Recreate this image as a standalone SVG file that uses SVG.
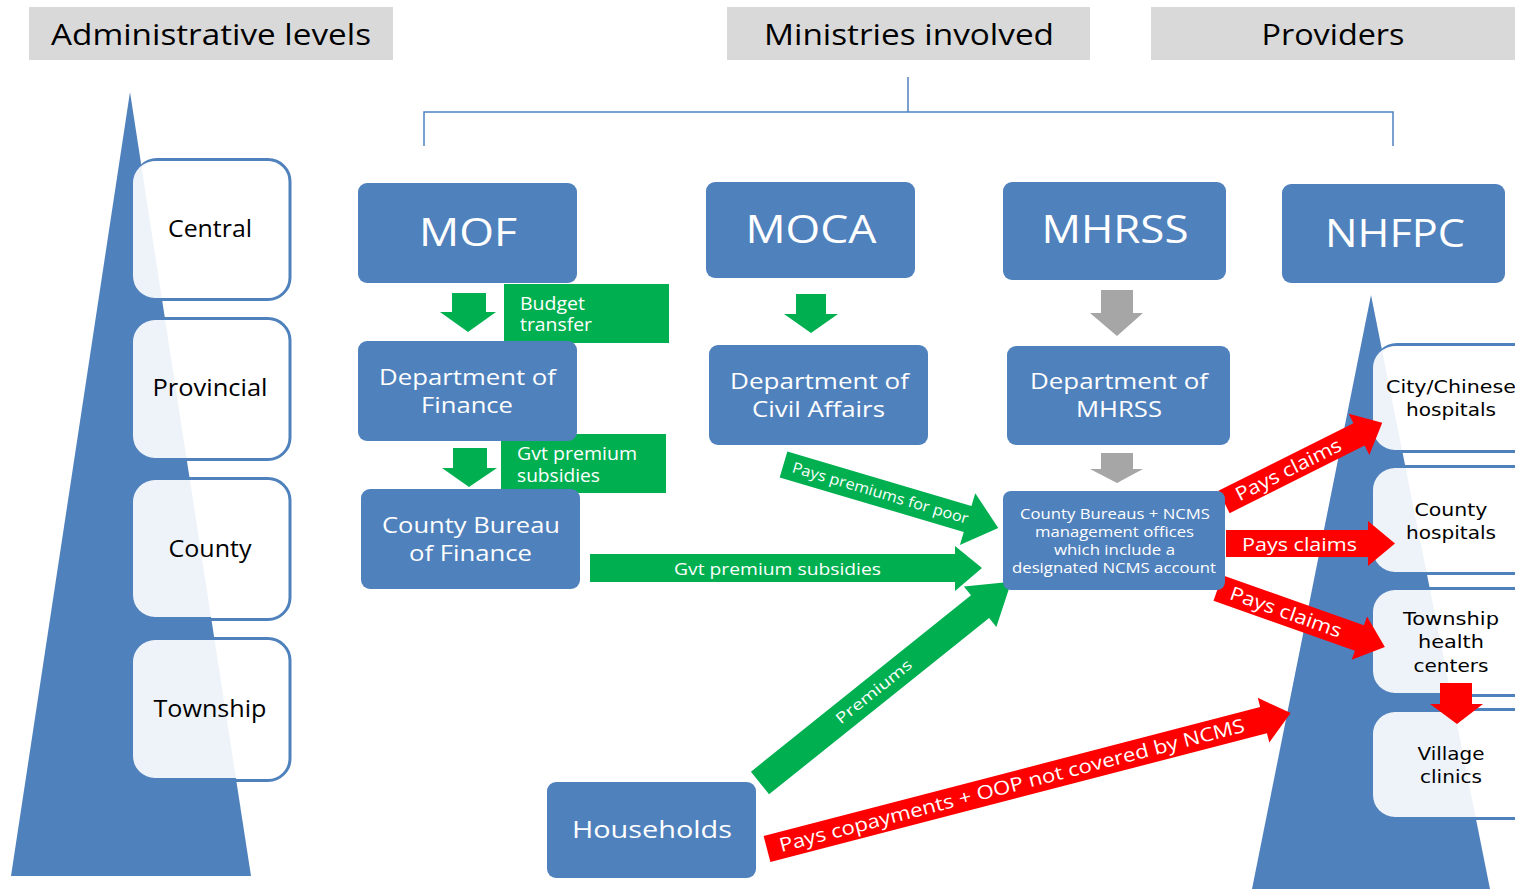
<svg xmlns="http://www.w3.org/2000/svg" width="1515" height="889" viewBox="0 0 1515 889">
<style>
text{font-family:"Open Sans","Liberation Sans",sans-serif;text-anchor:middle}
.hdr{fill:#D9D9D9}
.hdrt{font-size:30px;fill:#000}
.blue{fill:#4F81BD}
.node{fill:#4F81BD}
.big{font-size:39px;fill:#fff}
.dep{font-size:22px;fill:#fff}
.small{font-size:15px;fill:#fff}
.lvlS{fill:none;stroke:#4F81BD;stroke-width:3}
.lvlF{fill:#fff;fill-opacity:0.9}
.lvlt{font-size:23px;fill:#000}
.prvt{font-family:"DejaVu Sans","Liberation Sans",sans-serif;font-size:18px;fill:#000}
.green{fill:#00B050}
.red{fill:#FF0000}
.grey{fill:#A6A6A6}
.lbl{fill:#fff;text-anchor:start;font-size:18px}
.gl{font-size:15px;fill:#fff}
.rl{font-size:19px;fill:#fff}
.br{fill:none;stroke:#4F81BD;stroke-width:1.5}
</style>

<!-- headers -->
<g id="hdr-admin"><rect class="hdr" x="29" y="7" width="364" height="53"/><text class="hdrt" x="211" y="45" textLength="320" lengthAdjust="spacingAndGlyphs">Administrative levels</text></g>
<g id="hdr-min"><rect class="hdr" x="727" y="7" width="363" height="53"/><text class="hdrt" x="909" y="45" textLength="290" lengthAdjust="spacingAndGlyphs">Ministries involved</text></g>
<g id="hdr-prov"><rect class="hdr" x="1151" y="7" width="364" height="53"/><text class="hdrt" x="1333" y="45" textLength="143" lengthAdjust="spacingAndGlyphs">Providers</text></g>

<!-- triangles -->
<polygon class="blue" points="130,92 251,876 11,876"/>
<polygon class="blue" points="1371,295 1490,889 1252,889"/>

<!-- level boxes -->
<g id="lvl-central"><rect class="lvlS" x="135" y="159.5" width="155" height="140" rx="22"/><rect class="lvlF" x="133" y="161" width="155" height="137" rx="22"/><text class="lvlt" x="210" y="237" textLength="84" lengthAdjust="spacingAndGlyphs">Central</text></g>
<g id="lvl-provincial"><rect class="lvlS" x="135" y="318.5" width="155" height="141" rx="22"/><rect class="lvlF" x="133" y="320" width="155" height="138" rx="22"/><text class="lvlt" x="210" y="396" textLength="115" lengthAdjust="spacingAndGlyphs">Provincial</text></g>
<g id="lvl-county"><rect class="lvlS" x="135" y="478.5" width="155" height="141" rx="22"/><rect class="lvlF" x="133" y="480" width="155" height="137" rx="22"/><text class="lvlt" x="210" y="557" textLength="83" lengthAdjust="spacingAndGlyphs">County</text></g>
<g id="lvl-township"><rect class="lvlS" x="135" y="638.5" width="155" height="142" rx="22"/><rect class="lvlF" x="133" y="640" width="155" height="138" rx="22"/><text class="lvlt" x="210" y="717" textLength="113" lengthAdjust="spacingAndGlyphs">Township</text></g>

<!-- provider boxes -->
<g id="prv-city"><rect class="lvlS" x="1375" y="344.5" width="160" height="107" rx="22"/><rect class="lvlF" x="1373" y="346" width="160" height="104" rx="22"/><text class="prvt" x="1451" y="393" textLength="130" lengthAdjust="spacingAndGlyphs">City/Chinese</text><text class="prvt" x="1451" y="416" textLength="90" lengthAdjust="spacingAndGlyphs">hospitals</text></g>
<g id="prv-county"><rect class="lvlS" x="1375" y="466.5" width="160" height="107" rx="22"/><rect class="lvlF" x="1373" y="468" width="160" height="104" rx="22"/><text class="prvt" x="1451" y="516" textLength="73" lengthAdjust="spacingAndGlyphs">County</text><text class="prvt" x="1451" y="539" textLength="90" lengthAdjust="spacingAndGlyphs">hospitals</text></g>
<g id="prv-township"><rect class="lvlS" x="1375" y="588.5" width="160" height="107" rx="22"/><rect class="lvlF" x="1373" y="590" width="160" height="103" rx="22"/><text class="prvt" x="1451" y="625" textLength="96" lengthAdjust="spacingAndGlyphs">Township</text><text class="prvt" x="1451" y="648" textLength="66" lengthAdjust="spacingAndGlyphs">health</text><text class="prvt" x="1451" y="672" textLength="75" lengthAdjust="spacingAndGlyphs">centers</text></g>
<g id="prv-village"><rect class="lvlS" x="1375" y="709.5" width="160" height="109" rx="22"/><rect class="lvlF" x="1373" y="712" width="160" height="105" rx="22"/><text class="prvt" x="1451" y="760" textLength="67" lengthAdjust="spacingAndGlyphs">Village</text><text class="prvt" x="1451" y="783" textLength="62" lengthAdjust="spacingAndGlyphs">clinics</text></g>

<!-- connectors -->
<g id="connectors">
  <polyline class="br" points="908,77 908,112"/>
  <polyline class="br" points="424,146 424,112 1393,112 1393,146"/>
  <!-- down arrows -->
  <polygon class="green" points="452,293 486,293 486,312 496,312 468,332 440,312 452,312"/>
  <polygon class="green" points="453,448 487,448 487,468 497,468 469,487 442,468 453,468"/>
  <polygon class="green" points="796,294 826,294 826,314 838,314 811,333 784,314 796,314"/>
  <polygon class="grey" points="1101,290 1133,290 1133,313 1143,313 1117,336 1090,313 1101,313"/>
  <polygon class="grey" points="1101,453 1133,453 1133,469 1143,469 1117,483 1090,469 1101,469"/>
  <polygon class="red" points="1440,683 1472,683 1472,704 1483,704 1457,724 1430,704 1440,704"/>
  <!-- label boxes -->
  <g id="lbl-budget"><rect class="green" x="504" y="284" width="165" height="59"/><text class="lbl" x="520" y="310" textLength="65" lengthAdjust="spacingAndGlyphs">Budget</text><text class="lbl" x="520" y="331" textLength="72" lengthAdjust="spacingAndGlyphs">transfer</text></g>
  <g id="lbl-gvt"><rect class="green" x="501" y="434" width="165" height="59"/><text class="lbl" x="517" y="460" textLength="120" lengthAdjust="spacingAndGlyphs">Gvt premium</text><text class="lbl" x="517" y="482" textLength="83" lengthAdjust="spacingAndGlyphs">subsidies</text></g>
  <!-- horizontal green -->
  <g id="arr-gvt">
    <polygon class="green" points="590,554 955,554 955,546 982,568 955,591 955,582 590,582"/>
    <text x="777.5" y="575" style="font-size:17px;fill:#fff" textLength="207" lengthAdjust="spacingAndGlyphs">Gvt premium subsidies</text>
  </g>
  <g id="arr-poor" transform="translate(783.5,464.5) rotate(16.5)">
    <polygon class="green" points="0,-13.5 192,-13.5 192,-27 224,0 192,27 192,13.5 0,13.5"/>
    <text class="gl" x="101" y="5" textLength="183" lengthAdjust="spacingAndGlyphs">Pays premiums for poor</text>
  </g>
  <g id="arr-premiums" transform="translate(760,783) rotate(-38.7)">
    <polygon class="green" points="0,-14.5 282,-14.5 282,-26 322,0 282,26 282,14.5 0,14.5"/>
    <text class="gl" x="146" y="5" textLength="93" lengthAdjust="spacingAndGlyphs">Premiums</text>
  </g>
  <g id="arr-copay" transform="translate(767,849) rotate(-14.55)">
    <polygon class="red" points="0,-13.5 513,-13.5 513,-23 541,0 513,23 513,13.5 0,13.5"/>
    <text class="rl" x="253" y="6.5" textLength="480" lengthAdjust="spacingAndGlyphs">Pays copayments + OOP not covered by NCMS</text>
  </g>
  <g id="arr-claims1" transform="translate(1224,502) rotate(-26.6)">
    <polygon class="red" points="0,-12.5 151,-12.5 151,-23 177,0 151,23 151,12.5 0,12.5"/>
    <text class="rl" x="72" y="6.5" textLength="116" lengthAdjust="spacingAndGlyphs">Pays claims</text>
  </g>
  <g id="arr-claims2">
    <polygon class="red" points="1226,530 1368,530 1368,521 1395,543.5 1368,566 1368,557 1226,557"/>
    <text class="rl" x="1299.5" y="551" textLength="115" lengthAdjust="spacingAndGlyphs">Pays claims</text>
  </g>
  <g id="arr-claims3" transform="translate(1218,588) rotate(19.5)">
    <polygon class="red" points="0,-13.5 150,-13.5 150,-23 177,0 150,23 150,13.5 0,13.5"/>
    <text class="rl" x="72" y="6.5" textLength="117" lengthAdjust="spacingAndGlyphs">Pays claims</text>
  </g>
</g>

<!-- ministry nodes -->
<g id="mof"><rect class="node" x="358" y="183" width="219" height="100" rx="9"/><text class="big" x="468" y="246" textLength="98" lengthAdjust="spacingAndGlyphs">MOF</text></g>
<g id="moca"><rect class="node" x="706" y="182" width="209" height="96" rx="9"/><text class="big" x="811" y="243" textLength="131" lengthAdjust="spacingAndGlyphs">MOCA</text></g>
<g id="mhrss"><rect class="node" x="1003" y="182" width="223" height="98" rx="9"/><text class="big" x="1115" y="243" textLength="147" lengthAdjust="spacingAndGlyphs">MHRSS</text></g>
<g id="nhfpc"><rect class="node" x="1282" y="184" width="223" height="99" rx="9"/><text class="big" x="1395" y="247" textLength="140" lengthAdjust="spacingAndGlyphs">NHFPC</text></g>

<g id="dof"><rect class="node" x="358" y="341" width="219" height="100" rx="9"/><text class="dep" x="467.5" y="385" textLength="177" lengthAdjust="spacingAndGlyphs">Department of</text><text class="dep" x="467" y="413" textLength="92" lengthAdjust="spacingAndGlyphs">Finance</text></g>
<g id="cbf"><rect class="node" x="361" y="489" width="219" height="100" rx="9"/><text class="dep" x="471" y="533" textLength="178" lengthAdjust="spacingAndGlyphs">County Bureau</text><text class="dep" x="470.5" y="561" textLength="123" lengthAdjust="spacingAndGlyphs">of Finance</text></g>
<g id="dca"><rect class="node" x="709" y="345" width="219" height="100" rx="9"/><text class="dep" x="819.5" y="389" textLength="179" lengthAdjust="spacingAndGlyphs">Department of</text><text class="dep" x="818.5" y="417" textLength="133" lengthAdjust="spacingAndGlyphs">Civil Affairs</text></g>
<g id="dmhrss"><rect class="node" x="1007" y="346" width="223" height="99" rx="9"/><text class="dep" x="1119" y="389" textLength="178" lengthAdjust="spacingAndGlyphs">Department of</text><text class="dep" x="1119" y="417" textLength="86" lengthAdjust="spacingAndGlyphs">MHRSS</text></g>
<g id="ncms"><rect class="node" x="1003" y="491" width="222" height="99" rx="8"/>
<text class="small" x="1115" y="519" textLength="190" lengthAdjust="spacingAndGlyphs">County Bureaus + NCMS</text>
<text class="small" x="1114.5" y="537" textLength="159" lengthAdjust="spacingAndGlyphs">management offices</text>
<text class="small" x="1114.5" y="555" textLength="121" lengthAdjust="spacingAndGlyphs">which include a</text>
<text class="small" x="1114" y="573" textLength="204" lengthAdjust="spacingAndGlyphs">designated NCMS account</text></g>
<g id="households"><rect class="node" x="547" y="782" width="209" height="96" rx="9"/><text style="font-size:24px;fill:#fff" x="652" y="838" textLength="160" lengthAdjust="spacingAndGlyphs">Households</text></g>
</svg>
